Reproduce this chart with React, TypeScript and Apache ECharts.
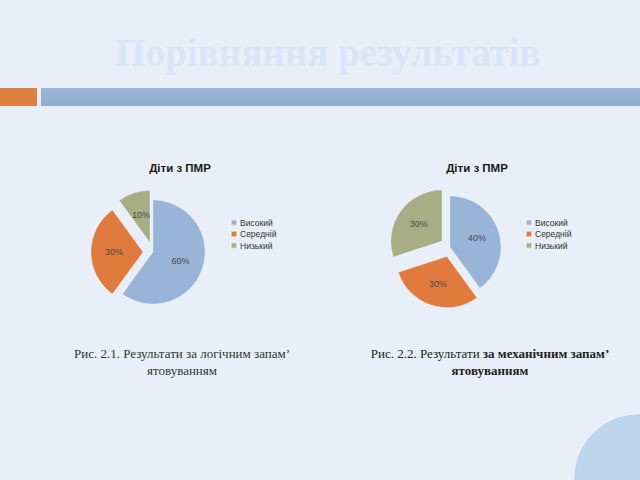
import React, { useEffect, useRef } from "react";
import * as echarts from "echarts";

const categories = ["Високий", "Середній", "Низький"];
const values1 = [60, 30, 10];
const values2 = [40, 30, 30];
const exploded1 = [false, true, true];
const exploded2 = [false, true, true];
const colors = ["#98b4d6", "#e07b3d", "#a7ad84"];
const pieTitle = "Діти з ПМР";
const pageTitle = "Порівняння результатів";
const caption1 = ["Рис. 2.1. Результати за логічним запам’", "ятовуванням"];
const caption2a = "Рис. 2.2. Результати ";
const caption2b = "за механічним запам’";
const caption2c = "ятовуванням";

const serif = "Liberation Serif";

export default function App() {
  const ref = useRef<HTMLDivElement>(null);
  useEffect(() => {
    if (!ref.current) return;
    const chart = echarts.init(ref.current, null, { renderer: "svg" });
    const mk = (vals: number[], ex: boolean[]) =>
      categories.map((n, i) => ({ name: n, value: vals[i], selected: ex[i] }));
    const pieBase = {
      type: "pie",
      radius: 52,
      startAngle: 90,
      clockwise: true,
      selectedMode: "multiple",
      selectedOffset: 10,
      label: {
        show: true,
        position: "inside",
        formatter: "{c}%",
        fontSize: 9,
        color: "#4a4a4a",
        fontFamily: "Liberation Sans",
      },
      labelLine: { show: false },
      itemStyle: { borderColor: "rgba(255,255,255,0.5)", borderWidth: 0.5 },
      emphasis: { disabled: true },
    };
    const legendBase = {
      orient: "vertical",
      icon: "rect",
      itemWidth: 6,
      itemHeight: 6,
      itemGap: 2.5,
      padding: 0,
      selectedMode: false,
      textStyle: {
        fontSize: 8.5,
        lineHeight: 8,
        color: "#333",
        fontFamily: "Liberation Sans",
        padding: [0, 0, 0, -2],
      },
      data: categories,
    };
    const titleStyle = { fontSize: 11.5, fontWeight: "bold", color: "#1a1a1a", fontFamily: "Liberation Sans" };
    chart.setOption({
      animation: false,
      backgroundColor: "#e8eff8",
      color: colors,
      title: [
        { text: pieTitle, left: 175, top: 157, textAlign: "center", textStyle: titleStyle },
        { text: pieTitle, left: 472, top: 157, textAlign: "center", textStyle: titleStyle },
      ],
      legend: [
        { ...legendBase, left: 230, top: 218 },
        { ...legendBase, left: 525, top: 218 },
      ],
      series: [
        { ...pieBase, name: "p1", center: [153, 252], data: mk(values1, exploded1) },
        { ...pieBase, name: "p2", center: [450, 247], radius: 51, data: mk(values2, exploded2) },
      ],
      graphic: [
        {
          type: "text",
          x: 328,
          y: 52,
          style: {
            text: pageTitle,
            fontFamily: serif,
            fontWeight: "bold",
            fontSize: 39,
            fill: "#d9e6f7",
            align: "center",
            verticalAlign: "middle",
          },
        },
        { type: "rect", shape: { x: 0, y: 88, width: 37, height: 18 }, style: { fill: "#de7e3f" } },
        {
          type: "rect",
          shape: { x: 41, y: 88, width: 599, height: 18 },
          style: {
            fill: new echarts.graphic.LinearGradient(0, 0, 0, 1, [
              { offset: 0, color: "#9bb7d6" },
              { offset: 1, color: "#8fadd1" },
            ]),
          },
        },
        {
          type: "text",
          x: 182,
          y: 353,
          style: { text: caption1[0], fontFamily: serif, fontSize: 13, fill: "#333", align: "center", verticalAlign: "middle" },
        },
        {
          type: "text",
          x: 182,
          y: 370,
          style: { text: caption1[1], fontFamily: serif, fontSize: 13, fill: "#333", align: "center", verticalAlign: "middle" },
        },
        {
          type: "text",
          x: 490,
          y: 353,
          style: {
            text: "{a|" + caption2a + "}{b|" + caption2b + "}",
            align: "center",
            verticalAlign: "middle",
            rich: {
              a: { fontFamily: serif, fontSize: 13, fill: "#222" },
              b: { fontFamily: serif, fontSize: 13, fontWeight: "bold", fill: "#222" },
            },
          },
        },
        {
          type: "text",
          x: 490,
          y: 370,
          style: {
            text: caption2c,
            fontFamily: serif,
            fontSize: 13,
            fontWeight: "bold",
            fill: "#222",
            align: "center",
            verticalAlign: "middle",
          },
        },
        {
          type: "circle",
          shape: { cx: 638, cy: 478, r: 63 },
          style: { fill: "#bdd6ee", stroke: "#a9c4e0", lineWidth: 0.6 },
        },
      ],
    });
    return () => chart.dispose();
  }, []);
  return <div ref={ref} style={{ position: "fixed", left: 0, top: 0, width: 640, height: 480 }} />;
}
